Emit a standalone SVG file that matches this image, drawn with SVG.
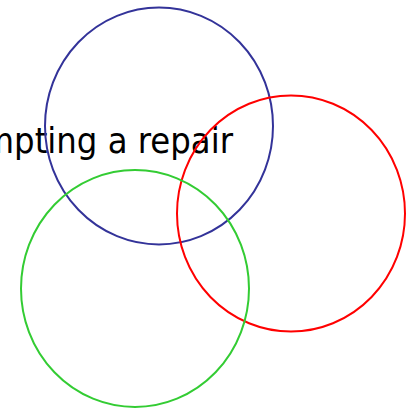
<svg xmlns="http://www.w3.org/2000/svg" width="415" height="408" viewBox="0 0 415 408">
<style>
.c{fill:none;stroke-width:2}
.t{font-family:"DejaVu Sans Condensed","DejaVu Sans",sans-serif;font-stretch:condensed;font-size:36px;fill:#000}
</style>
<rect width="415" height="408" fill="#fff"/>
<g id="label"><text class="t" x="233" y="153" text-anchor="end">attempting a repair</text></g>
<g id="blue"><ellipse class="c" cx="159" cy="126" rx="114" ry="118.5" stroke="#333399"/></g>
<g id="red"><ellipse class="c" cx="291" cy="213.5" rx="114" ry="118" stroke="#ff0000"/></g>
<g id="green"><ellipse class="c" cx="135" cy="288.5" rx="114" ry="118.5" stroke="#33cc33"/></g>
<g id="connectors"/>
</svg>
